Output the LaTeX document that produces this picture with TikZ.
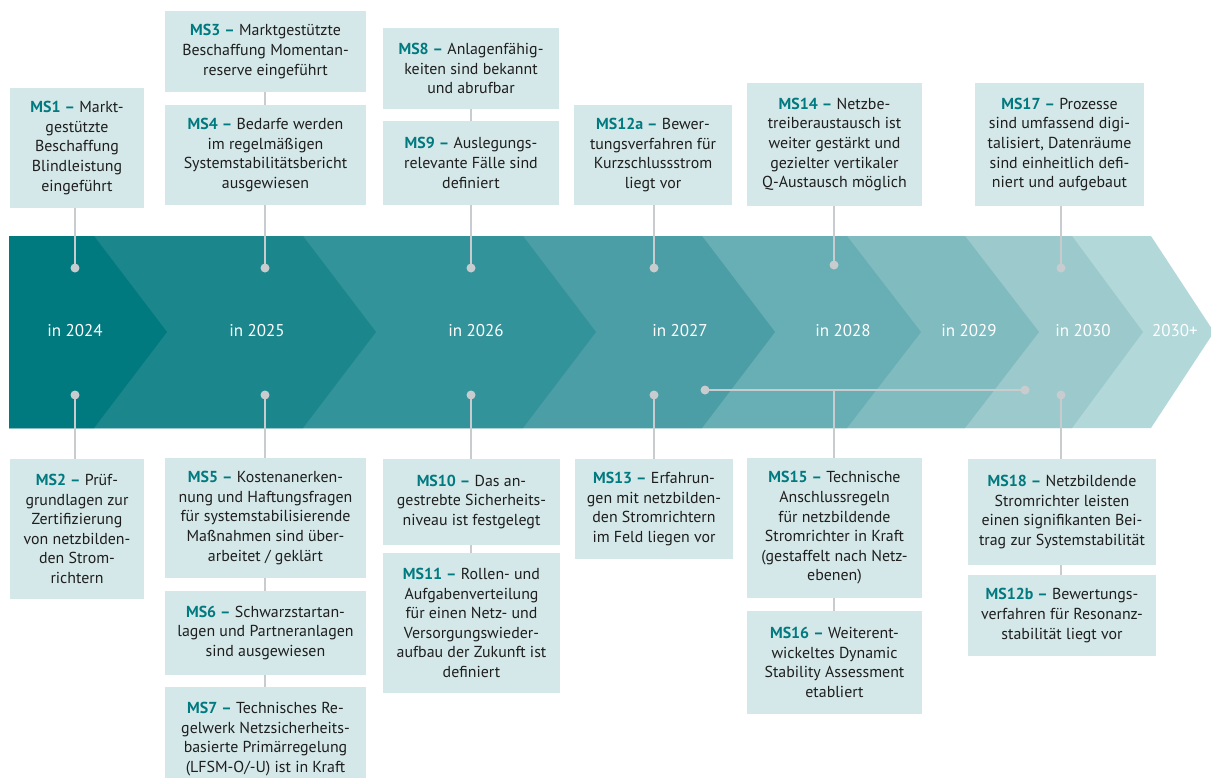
\documentclass[tikz,border=0pt]{standalone}
\usepackage{fontspec}
\setmainfont{PT Sans}
\definecolor{c2024}{HTML}{007A7F}
\definecolor{c2025}{HTML}{1B878D}
\definecolor{c2026}{HTML}{33939A}
\definecolor{c2027}{HTML}{4B9EA5}
\definecolor{c2028}{HTML}{67AFB4}
\definecolor{c2029}{HTML}{80BBC0}
\definecolor{c2030}{HTML}{9BC9CC}
\definecolor{c2030p}{HTML}{B2D8DA}
\definecolor{boxfill}{HTML}{D5E8E9}
\definecolor{msteal}{HTML}{00797F}
\definecolor{txt}{HTML}{1E1E1E}
\definecolor{linegray}{HTML}{C8CCCF}
\newcommand\msl[1]{{\color{msteal}\bfseries #1~–}}
\begin{document}
\begin{tikzpicture}[x=1pt,y=-1pt,
  msbox/.style={rectangle, fill=boxfill, inner sep=0pt, align=center,
    font=\fontsize{15.9}{19.6}\selectfont, text=txt},
  link/.style={draw=linegray, line width=2.2pt},
  dot/.style={circle, fill=linegray, inner sep=0pt, minimum size=9pt},
  yr/.style={text=white, font=\fontsize{17}{19}\selectfont}]
\useasboundingbox (0,0) rectangle (1211,777);
\clip (0,0) rectangle (1211,777);
% chevron band
\fill[c2030p] (9,236) -- (1151,236) -- (1214,332) -- (1151,428) -- (9,428) -- cycle;
\fill[c2030]  (9,236) -- (1072,236) -- (1143,332) -- (1072,428) -- (9,428) -- cycle;
\fill[c2029]  (9,236) -- (965,236) -- (1039,332) -- (965,428) -- (9,428) -- cycle;
\fill[c2028]  (9,236) -- (847,236) -- (921,332) -- (847,428) -- (9,428) -- cycle;
\fill[c2027]  (9,236) -- (702,236) -- (775,332) -- (702,428) -- (9,428) -- cycle;
\fill[c2026]  (9,236) -- (523,236) -- (596,332) -- (523,428) -- (9,428) -- cycle;
\fill[c2025]  (9,236) -- (303,236) -- (376,332) -- (303,428) -- (9,428) -- cycle;
\fill[c2024]  (9,236) -- (94,236) -- (167,332) -- (94,428) -- (9,428) -- cycle;
% year labels
\node[yr] (y2024) at (75,331) {in 2024};
\node[yr] (y2025) at (257,331) {in 2025};
\node[yr] (y2026) at (476,331) {in 2026};
\node[yr] (y2027) at (680,331) {in 2027};
\node[yr] (y2028) at (843,331) {in 2028};
\node[yr] (y2029) at (969,331) {in 2029};
\node[yr] (y2030) at (1083,331) {in 2030};
\node[yr] (y2030p) at (1175,331) {2030+};
% boxes top
\node[msbox, minimum width=134pt, minimum height=120pt] (ms1) at (77,148)
  {\msl{MS1} Markt-\\gestützte\\Beschaffung\\Blindleistung\\eingeführt};
\node[msbox, minimum width=201pt, minimum height=81pt] (ms3) at (265.5,51.5)
  {\msl{MS3} Marktgestützte\\Beschaffung Momentan-\\reserve eingeführt};
\node[msbox, minimum width=201pt, minimum height=100pt] (ms4) at (265.5,155)
  {\msl{MS4} Bedarfe werden\\im regelmäßigen\\Systemstabilitätsbericht\\ausgewiesen};
\node[msbox, minimum width=176pt, minimum height=81pt] (ms8) at (471,68.5)
  {\msl{MS8} Anlagenfähig-\\keiten sind bekannt\\und abrufbar};
\node[msbox, minimum width=176pt, minimum height=84pt] (ms9) at (471,163)
  {\msl{MS9} Auslegungs-\\relevante Fälle sind\\definiert};
\node[msbox, minimum width=158pt, minimum height=100pt] (ms12a) at (653,155)
  {\msl{MS12a} Bewer-\\tungsverfahren für\\Kurzschlussstrom\\liegt vor};
\node[msbox, minimum width=175pt, minimum height=123pt] (ms14) at (834.5,144.5)
  {\msl{MS14} Netzbe-\\treiberaustausch ist\\weiter gestärkt und\\gezielter vertikaler\\Q-Austausch möglich};
\node[msbox, minimum width=169pt, minimum height=123pt] (ms17) at (1059.5,144.5)
  {\msl{MS17} Prozesse\\sind umfassend digi-\\talisiert, Datenräume\\sind einheitlich defi-\\niert und aufgebaut};
% boxes bottom
\node[msbox, minimum width=134pt, minimum height=140pt] (ms2) at (77,529)
  {\msl{MS2} Prüf-\\grundlagen zur\\Zertifizierung\\von netzbilden-\\den Strom-\\richtern};
\node[msbox, minimum width=201pt, minimum height=120pt] (ms5) at (265.5,518)
  {\msl{MS5} Kostenanerken-\\nung und Haftungsfragen\\für systemstabilisierende\\Maßnahmen sind über-\\arbeitet / geklärt};
\node[msbox, minimum width=201pt, minimum height=84pt] (ms6) at (265.5,633)
  {\msl{MS6} Schwarzstartan-\\lagen und Partneranlagen\\sind ausgewiesen};
\node[msbox, minimum width=201pt, minimum height=104pt] (ms7) at (265.5,739)
  {\msl{MS7} Technisches Re-\\gelwerk Netzsicherheits-\\basierte Primärregelung\\(LFSM-O/-U) ist in Kraft};
\node[msbox, minimum width=177pt, minimum height=86pt] (ms10) at (471.5,502)
  {\msl{MS10} Das an-\\gestrebte Sicherheits-\\niveau ist festgelegt};
\node[msbox, minimum width=177pt, minimum height=140pt] (ms11) at (471.5,623)
  {\msl{MS11} Rollen- und\\Aufgabenverteilung\\für einen Netz- und\\Versorgungswieder-\\aufbau der Zukunft ist\\definiert};
\node[msbox, minimum width=158pt, minimum height=100pt] (ms13) at (654,509)
  {\msl{MS13} Erfahrun-\\gen mit netzbilden-\\den Stromrichtern\\im Feld liegen vor};
\node[msbox, minimum width=175pt, minimum height=140pt] (ms15) at (834.5,528)
  {\msl{MS15} Technische\\Anschlussregeln\\für netzbildende\\Stromrichter in Kraft\\(gestaffelt nach Netz-\\ebenen)};
\node[msbox, minimum width=175pt, minimum height=103pt] (ms16) at (834.5,662.5)
  {\msl{MS16} Weiterent-\\wickeltes Dynamic\\Stability Assessment\\etabliert};
\node[msbox, minimum width=188pt, minimum height=106pt] (ms18) at (1062,512)
  {\msl{MS18} Netzbildende\\Stromrichter leisten\\einen signifikanten Bei-\\trag zur Systemstabilität};
\node[msbox, minimum width=188pt, minimum height=81pt] (ms12b) at (1062,615.5)
  {\msl{MS12b} Bewertungs-\\verfahren für Resonanz-\\stabilität liegt vor};
% dots
\node[dot] (d1) at (75,268) {};
\node[dot] (d4) at (265,268) {};
\node[dot] (d9) at (471,268) {};
\node[dot] (d12a) at (654,268) {};
\node[dot] (d14) at (834,265) {};
\node[dot] (d17) at (1061,268) {};
\node[dot] (d2) at (75,395) {};
\node[dot] (d5) at (265,395) {};
\node[dot] (d10) at (471,395) {};
\node[dot] (d13) at (654,395) {};
\node[dot] (d15a) at (705,390) {};
\node[dot] (d15b) at (1025,390) {};
\coordinate (j15) at (834,390);
\node[dot] (d18) at (1061,395) {};
% links
\path[link] (ms1.south -| d1) -- (d1.center);
\path[link] (ms3.south -| d4) -- (ms4.north -| d4);
\path[link] (ms4.south -| d4) -- (d4.center);
\path[link] (ms8.south -| d9) -- (ms9.north -| d9);
\path[link] (ms9.south -| d9) -- (d9.center);
\path[link] (ms12a.south -| d12a) -- (d12a.center);
\path[link] (ms14.south -| d14) -- (d14.center);
\path[link] (ms17.south -| d17) -- (d17.center);
\path[link] (d2.center) -- (ms2.north -| d2);
\path[link] (d5.center) -- (ms5.north -| d5);
\path[link] (ms5.south -| d5) -- (ms6.north -| d5);
\path[link] (ms6.south -| d5) -- (ms7.north -| d5);
\path[link] (d10.center) -- (ms10.north -| d10);
\path[link] (ms10.south -| d10) -- (ms11.north -| d10);
\path[link] (d13.center) -- (ms13.north -| d13);
\path[link] (d15a.center) -- (d15b.center);
\path[link] (j15) -- (ms15.north -| j15);
\path[link] (ms15.south -| j15) -- (ms16.north -| j15);
\path[link] (d18.center) -- (ms18.north -| d18);
\path[link] (ms18.south -| d18) -- (ms12b.north -| d18);
\end{tikzpicture}
\end{document}
